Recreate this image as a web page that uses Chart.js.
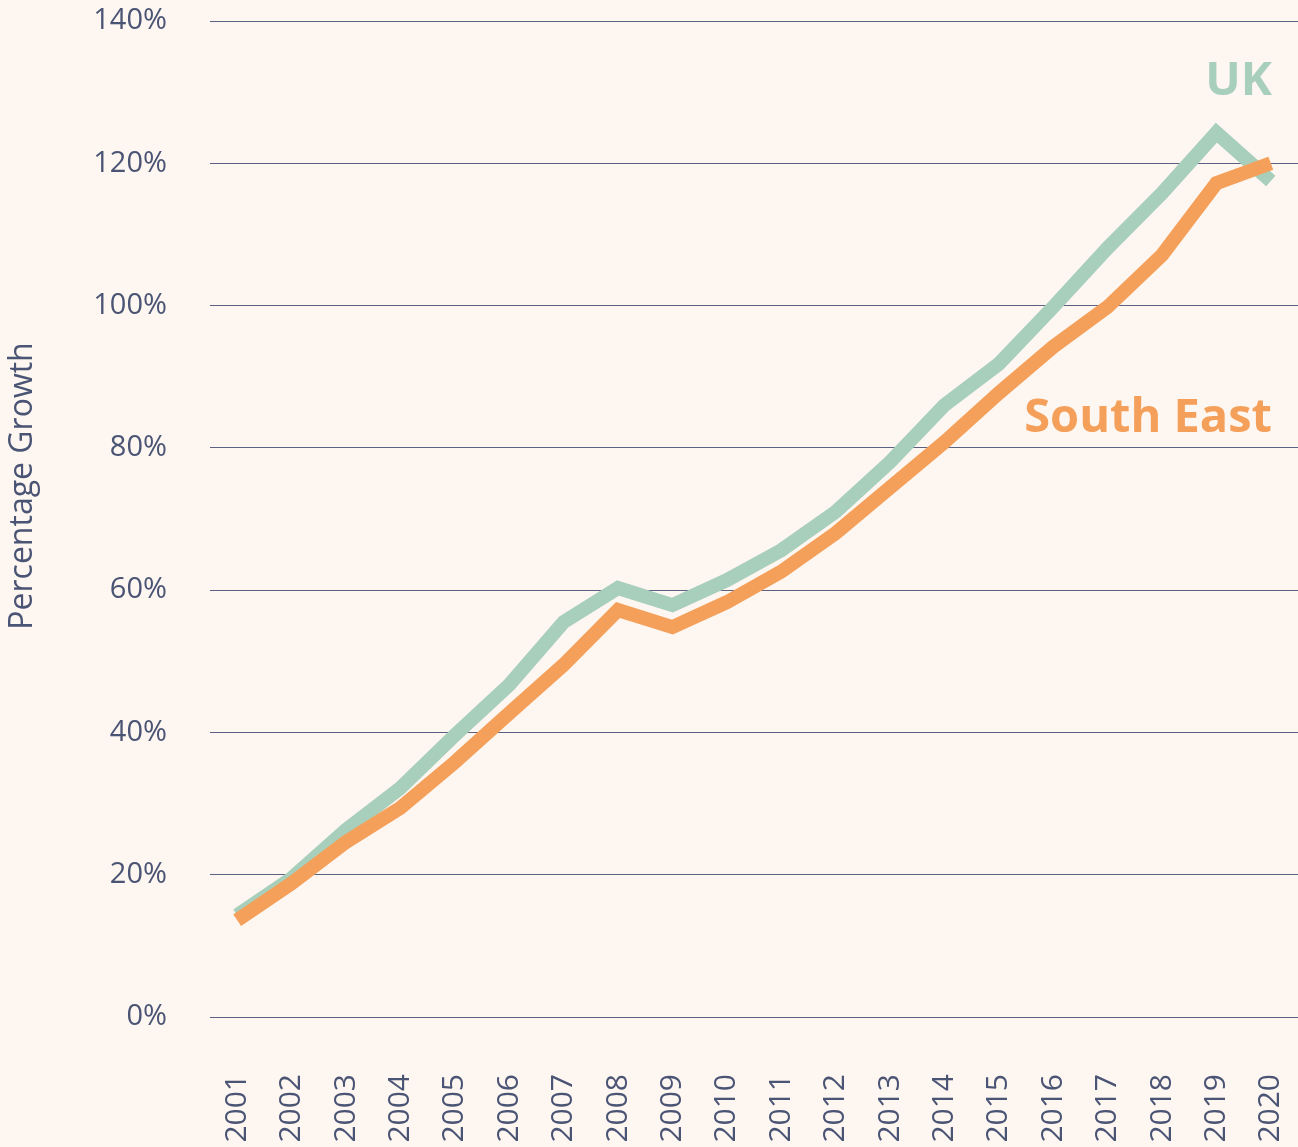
<!DOCTYPE html>
<html>
<head>
<meta charset="utf-8">
<script src="https://cdn.jsdelivr.net/npm/chart.js@4/dist/chart.umd.min.js"></script>
<style>
  html, body { margin: 0; padding: 0; background: #fef6f0; overflow: hidden; }
  #grafico { display: block; }
</style>
</head>
<body>
<canvas id="grafico" width="1298" height="1147"></canvas>
<script>
const anos = ["2001", "2002", "2003", "2004", "2005", "2006", "2007", "2008", "2009", "2010",
  "2011", "2012", "2013", "2014", "2015", "2016", "2017", "2018", "2019", "2020"];
const valoresUK = [14.3, 19.5, 26.3, 32.2, 39.6, 46.7, 55.5, 60.3, 57.9, 61.4,
  65.6, 71.0, 78.0, 86.0, 91.8, 99.8, 108.1, 115.8, 124.3, 117.5];
const valoresSE = [13.6, 18.8, 24.6, 29.4, 35.8, 42.7, 49.5, 57.2, 54.8, 58.3,
  62.6, 68.0, 74.4, 80.8, 87.7, 94.2, 99.8, 107.1, 117.2, 120.0];
const ticksY = [0, 20, 40, 60, 80, 100, 120, 140];

const corUK = "#a8cfbb";
const corSE = "#f4a05a";
const corTexto = "#4a5474";
const fonte = "'Open Sans', 'Noto Sans', sans-serif";
const tituloY = "Percentage Growth";

// rotulos das series, escritos dentro do grafico
const rotulos = [
  { texto: "UK", cor: corUK, valor: 129.6 },
  { texto: "South East", cor: corSE, valor: 82.2 },
];

const pluginRotulos = {
  id: "rotulos",
  afterDatasetsDraw(chart) {
    const { ctx, chartArea, scales } = chart;
    ctx.save();
    ctx.font = "bold 47px " + fonte;
    ctx.textAlign = "right";
    ctx.textBaseline = "alphabetic";
    rotulos.forEach((r) => {
      ctx.fillStyle = r.cor;
      ctx.fillText(r.texto, chartArea.right - 26, scales.y.getPixelForValue(r.valor));
    });
    ctx.restore();

    // titulo do eixo y, um pouco acima do centro como no original
    ctx.save();
    ctx.translate(23, 486);
    ctx.rotate(-Math.PI / 2);
    ctx.font = "32px " + fonte;
    ctx.fillStyle = corTexto;
    ctx.textAlign = "center";
    ctx.textBaseline = "middle";
    ctx.fillText(tituloY, 0, 0);
    ctx.restore();
  },
};

function semPadding(scale) {
  scale.paddingTop = 0;
  scale.paddingBottom = 0;
  scale.paddingLeft = 0;
  scale.paddingRight = 0;
}

new Chart(document.getElementById("grafico"), {
  type: "line",
  data: {
    labels: anos,
    datasets: [
      {
        label: "South East",
        data: valoresSE,
        borderColor: corSE,
        borderWidth: 14,
        borderJoinStyle: "miter",
        pointRadius: 0,
        tension: 0,
        order: 0,
      },
      {
        label: "UK",
        data: valoresUK,
        borderColor: corUK,
        borderWidth: 14,
        borderJoinStyle: "miter",
        pointRadius: 0,
        tension: 0,
        order: 1,
      },
    ],
  },
  plugins: [pluginRotulos],
  options: {
    responsive: false,
    animation: false,
    devicePixelRatio: 1,
    layout: { padding: { top: 21, right: 0, bottom: 0, left: 0 } },
    plugins: { legend: { display: false }, tooltip: { enabled: false } },
    scales: {
      x: {
        offset: true,
        grid: { display: false, drawTicks: false },
        border: { display: false },
        ticks: {
          color: corTexto,
          font: { family: fonte, size: 30 },
          minRotation: 90,
          maxRotation: 90,
          autoSkip: false,
          padding: 57,
        },
        afterFit(scale) { scale.height = 130; semPadding(scale); },
      },
      y: {
        min: 0,
        max: 140,
        afterBuildTicks(scale) { scale.ticks = ticksY.map((v) => ({ value: v })); },
        grid: { color: "#5b6180", lineWidth: 1, drawTicks: false },
        border: { display: false },
        ticks: {
          color: corTexto,
          font: { family: fonte, size: 29 },
          padding: 43,
          callback: (v) => v + "%",
        },
        afterFit(scale) { scale.width = 210; semPadding(scale); },
      },
    },
  },
});
</script>
</body>
</html>
